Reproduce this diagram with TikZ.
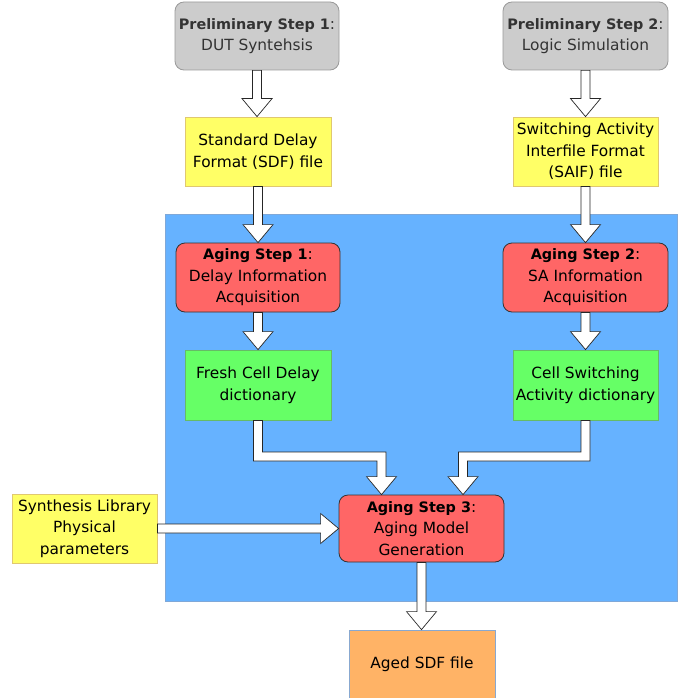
\documentclass[tikz,border=0pt]{standalone}
\usepackage{fontspec}
\setmainfont{DejaVu Sans}
\usetikzlibrary{calc}
\definecolor{grayfill}{HTML}{CCCCCC}
\definecolor{graydraw}{HTML}{999999}
\definecolor{yelfill}{HTML}{FFFF66}
\definecolor{yeldraw}{HTML}{E0C870}
\definecolor{bluefill}{HTML}{66B2FF}
\definecolor{bluedraw}{HTML}{7FA8D8}
\definecolor{redfill}{HTML}{FF6666}
\definecolor{greenfill}{HTML}{66FF66}
\definecolor{greendraw}{HTML}{66BB66}
\definecolor{orangefill}{HTML}{FFB366}
\definecolor{orangedraw}{HTML}{88A8D0}
\definecolor{txtgray}{HTML}{333333}
\newcommand\hd[1]{{\fontsize{14.4}{21}\selectfont\bfseries #1}}
\tikzset{
  box/.style={inner sep=0pt, align=center, line width=0.8pt,
    font=\fontsize{15.4}{21.5}\selectfont},
  prelim/.style={box, fill=grayfill, draw=graydraw, rounded corners=9pt, text=txtgray},
  filebox/.style={box, fill=yelfill, draw=yeldraw},
  agingbox/.style={box, fill=redfill, draw=black!80, rounded corners=9pt},
  dictbox/.style={box, fill=greenfill, draw=greendraw},
  outbox/.style={box, fill=orangefill, draw=orangedraw},
  barrow/.style={fill=white, draw=black!85, line width=0.7pt, line join=miter},
}
% straight vertical block arrow from node #1 (south) to node #2 (north)
\newcommand\blockdown[2]{%
  \draw[barrow] ($(#1.south)+(-4.5,0)$) -- ($(#1.south |- #2.north)+(-4.5,-18)$)
    -- ++(-10.5,0) -- (#1.south |- #2.north) -- ++(15,-18) -- ++(-10.5,0)
    -- ($(#1.south)+(4.5,0)$) -- cycle;}
\begin{document}
\begin{tikzpicture}[x=1pt,y=-1pt]
\useasboundingbox (0,0) rectangle (688,698);
% blue background
\node[fill=bluefill, draw=bluedraw, line width=0.6pt, minimum width=512pt, minimum height=387pt, inner sep=0pt] (bg) at (421,407.5) {};

\node[prelim, minimum width=164pt, minimum height=68pt] (p1) at (257,36) {\hd{Preliminary Step 1}:\\DUT Syntehsis};
\node[prelim, minimum width=165pt, minimum height=68pt] (p2) at (585.5,36) {\hd{Preliminary Step 2}:\\Logic Simulation};

\node[filebox, minimum width=146pt, minimum height=69pt] (sdf) at (258,151.5) {Standard Delay\\Format (SDF) file};
\node[filebox, minimum width=145pt, minimum height=69pt] (saif) at (585.5,151.5) {Switching Activity\\Interfile Format\\(SAIF) file};

\node[agingbox, minimum width=164pt, minimum height=69pt] (a1) at (258,277.5) {\hd{Aging Step 1}:\\Delay Information\\Acquisition};
\node[agingbox, minimum width=165pt, minimum height=69pt] (a2) at (585.5,277.5) {\hd{Aging Step 2}:\\SA Information\\Acquisition};

\node[dictbox, minimum width=146pt, minimum height=70pt] (fresh) at (258,385) {Fresh Cell Delay\\dictionary};
\node[dictbox, minimum width=145pt, minimum height=70pt] (csa) at (585.5,385) {Cell Switching\\Activity dictionary};

\node[agingbox, minimum width=165pt, minimum height=67pt] (a3) at (421.5,528.5) {\hd{Aging Step 3}:\\Aging Model\\Generation};
\node[filebox, minimum width=145pt, minimum height=69pt] (synth) at (84.5,528.5) {Synthesis Library\\Physical\\parameters};

\node[outbox, minimum width=146pt, minimum height=68pt] (aged) at (422,664) {Aged SDF file};

% straight arrows
\blockdown{p1}{sdf}
\blockdown{p2}{saif}
\blockdown{sdf}{a1}
\blockdown{saif}{a2}
\blockdown{a1}{fresh}
\blockdown{a2}{csa}
\blockdown{a3}{aged}

% elbow arrows
\coordinate (t1) at ($(a3.north)+(-40,0)$);
\coordinate (t2) at ($(a3.north)+(41.5,0)$);
\coordinate (h) at (0,456.5);
\draw[barrow] ($(fresh.south)+(-4.5,0)$) -- ($(fresh.south |- h)+(-4.5,4.5)$)
  -- ($(t1 |- h)+(-4.5,4.5)$) -- ($(t1)+(-4.5,-18)$) -- ++(-10.5,0) -- (t1)
  -- ++(15,-18) -- ++(-10.5,0) -- ($(t1 |- h)+(4.5,-4.5)$)
  -- ($(fresh.south |- h)+(4.5,-4.5)$) -- ($(fresh.south)+(4.5,0)$) -- cycle;
\draw[barrow] ($(csa.south)+(4.5,0)$) -- ($(csa.south |- h)+(4.5,4.5)$)
  -- ($(t2 |- h)+(4.5,4.5)$) -- ($(t2)+(4.5,-18)$) -- ++(10.5,0) -- (t2)
  -- ++(-15,-18) -- ++(10.5,0) -- ($(t2 |- h)+(-4.5,-4.5)$)
  -- ($(csa.south |- h)+(-4.5,-4.5)$) -- ($(csa.south)+(-4.5,0)$) -- cycle;

% horizontal arrow
\draw[barrow] ($(synth.east)+(0,-4.5)$) -- ($(a3.west)+(-18,-4.5)$) -- ++(0,-10.5)
  -- (a3.west) -- ++(-18,15) -- ++(0,-10.5) -- ($(synth.east)+(0,4.5)$) -- cycle;
\end{tikzpicture}
\end{document}
